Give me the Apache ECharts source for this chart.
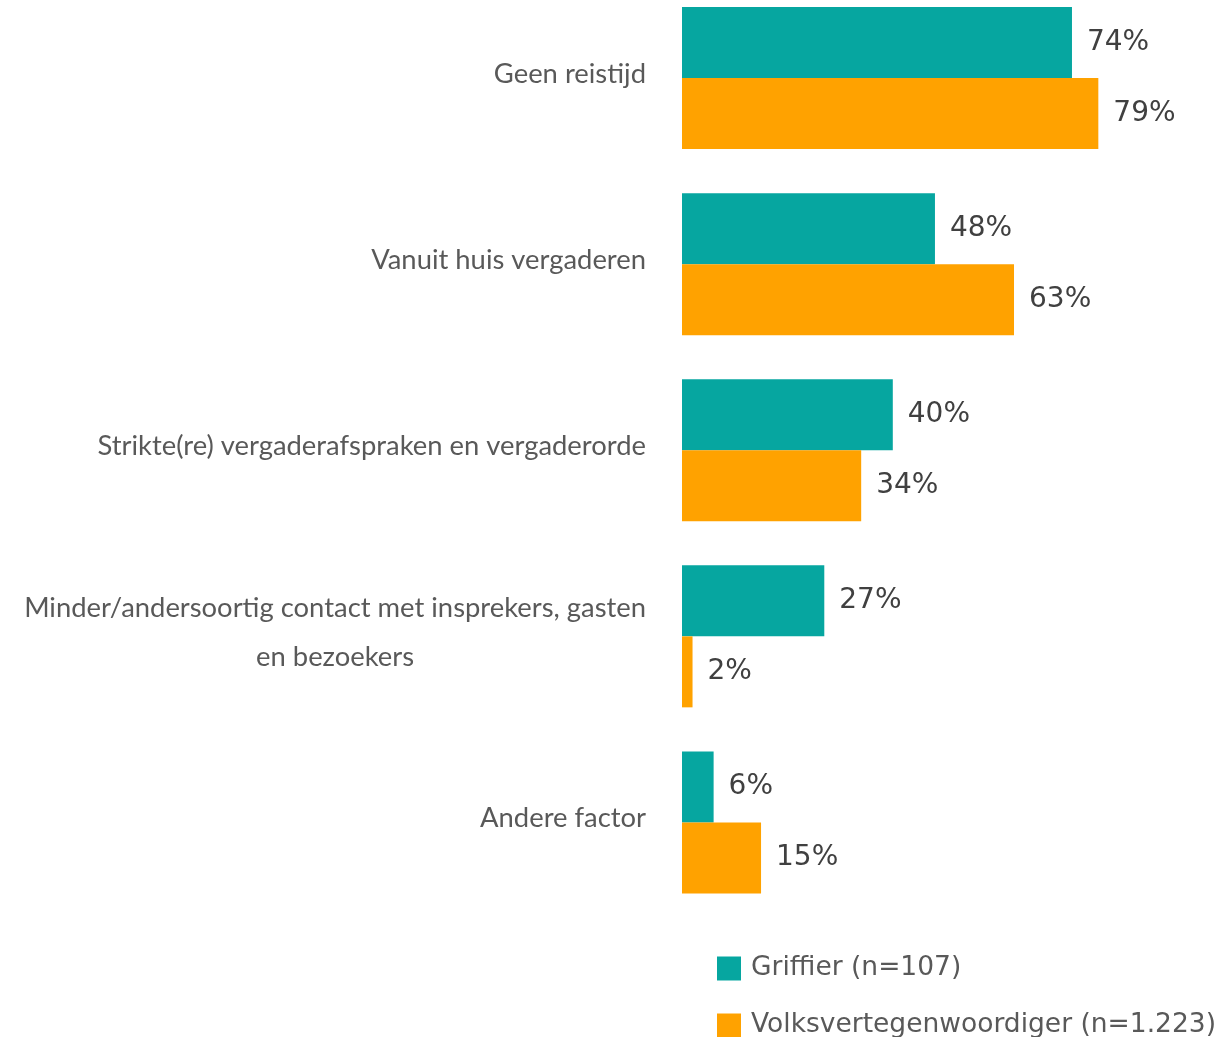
<!DOCTYPE html>
<html>
<head>
<meta charset="utf-8">
<script src="https://cdn.jsdelivr.net/npm/echarts@6/dist/echarts.min.js"></script>
<style>html,body{margin:0;padding:0;background:#fff;overflow:hidden}#c{width:1224px;height:1052px;margin-top:-15px}</style>
</head>
<body>
<div id="c"></div>
<script>
const categories = ["Geen reistijd", "Vanuit huis vergaderen", "Strikte(re) vergaderafspraken en vergaderorde", "Minder/andersoortig contact met insprekers, gasten\nen bezoekers", "Andere factor"];
const seriesNames = ["Griffier (n=107)", "Volksvertegenwoordiger (n=1.223)"];
const griffier = [74, 48, 40, 27, 6];
const volks = [79, 63, 34, 2, 15];

const CAT_FONT = "Lato";
const VAL_FONT = "DejaVu Sans";
const chart = echarts.init(document.getElementById('c'), null, {renderer: 'canvas'});
const labelStyle = {show: true, position: 'right', distance: 15, formatter: '{c}%', fontSize: 28, color: '#404040', fontFamily: VAL_FONT};
const legendBase = {
  orient: 'vertical', left: 717, padding: 0, itemWidth: 24, itemHeight: 24,
  icon: 'rect', textStyle: {fontSize: 26.5, color: '#595959', fontFamily: VAL_FONT, padding: [0, 0, 0, 5]}
};
chart.setOption({
  animation: false,
  grid: {left: 682, right: 15, top: 0, bottom: 121.5, containLabel: false},
  xAxis: {type: 'value', min: 0, max: 100, show: false},
  yAxis: {
    type: 'category', inverse: true, data: categories,
    axisLine: {show: false}, axisTick: {show: false},
    axisLabel: {
      margin: 36, fontSize: 27.4, color: '#595959', fontFamily: CAT_FONT, lineHeight: 49,
      padding: [0, 0, 8, 0],
      formatter: function (v) {
        if (v.indexOf('\n') >= 0) {
          return v.split('\n').map(s => '{c|' + s + '}').join('\n');
        }
        return v;
      },
      rich: {c: {align: 'center', fontSize: 27.4, color: '#595959', fontFamily: CAT_FONT, lineHeight: 49}}
    }
  },
  legend: [
    Object.assign({}, legendBase, {top: 970, data: [seriesNames[0]]}),
    Object.assign({}, legendBase, {top: 1027, data: [seriesNames[1]]})
  ],
  series: [
    {name: seriesNames[0], type: 'bar', data: griffier, barGap: '0%', barCategoryGap: '23.7%', itemStyle: {color: '#06A6A0'}, label: labelStyle},
    {name: seriesNames[1], type: 'bar', data: volks, barGap: '0%', barCategoryGap: '23.7%', itemStyle: {color: '#FFA200'}, label: labelStyle}
  ]
});
</script>
</body>
</html>
